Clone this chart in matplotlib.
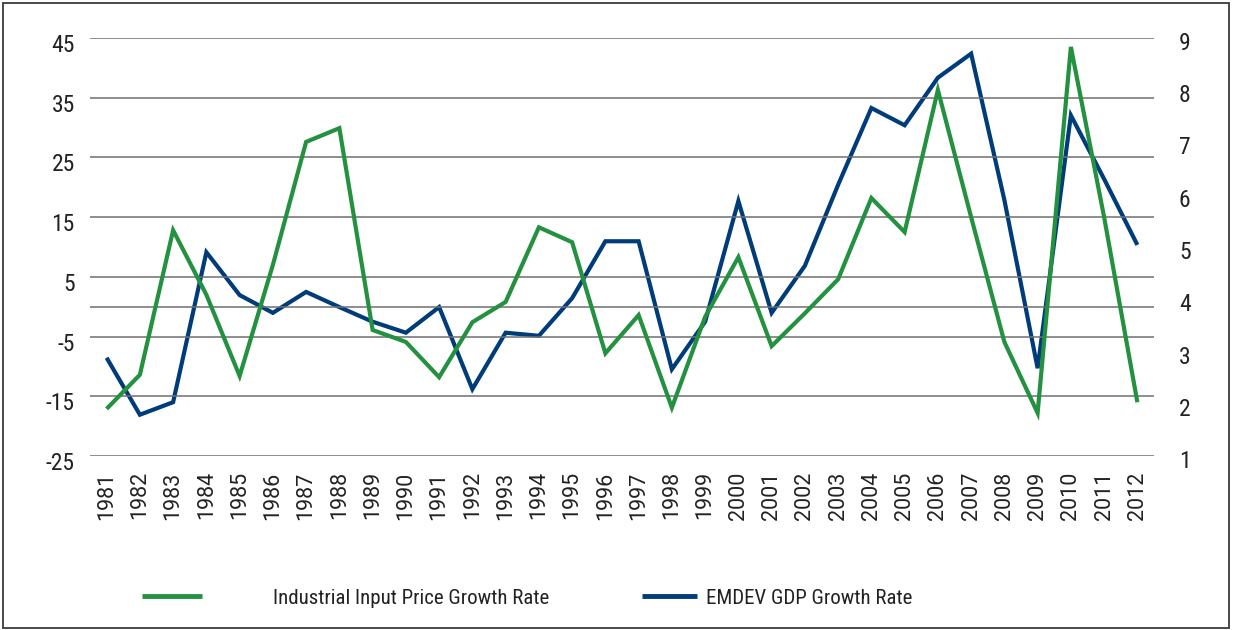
import matplotlib
matplotlib.use("Agg")
import matplotlib.pyplot as plt
from matplotlib.patches import Rectangle
import matplotlib.transforms as mtransforms

years = [str(y) for y in range(1981, 2013)]
industrial_price = [-17.1, -11.4, 12.8, 2.0, -11.6, 7.0, 27.6, 29.9, -3.9, -5.9,
                    -11.8, -2.6, 0.8, 13.3, 10.8, -7.8, -1.4, -16.9, -1.7, 8.3,
                    -6.6, -1.1, 4.6, 18.2, 12.5, 36.3, 15.0, -5.9, -17.8, 43.5,
                    15.0, -16.0]
emdev_gdp = [2.88, 1.79, 2.03, 4.90, 4.08, 3.74, 4.14, 3.85, 3.57, 3.36,
             3.85, 2.28, 3.36, 3.30, 4.02, 5.11, 5.11, 2.66, 3.57, 5.88,
             3.74, 4.64, 6.19, 7.66, 7.33, 8.24, 8.70, 5.9, 2.68, 7.52,
             6.3, 5.04]
left_ticks = [-25, -15, -5, 5, 15, 25, 35, 45]
right_ticks = [1, 2, 3, 4, 5, 6, 7, 8, 9]
labels = ["Industrial Input Price Growth Rate", "EMDEV GDP Growth Rate"]

GREEN = "#23913F"
BLUE = "#003C7A"
TXT = "#222222"

plt.rcParams["font.family"] = ["Roboto Condensed", "Liberation Sans", "DejaVu Sans"]

fig = plt.figure(figsize=(12.33, 6.30), dpi=100)
W, H = 1233, 630
ax = fig.add_axes([90 / W, 1 - 456 / H, (1154 - 90) / W, (456 - 38) / H])
ax2 = ax.twinx()

x = list(range(len(years)))
ax.set_xlim(-0.5, len(years) - 0.5)
ax.set_ylim(-25, 45)
ax.set_yticks(left_ticks)
ax.set_yticklabels([str(t) for t in left_ticks])
ax.yaxis.grid(True, color="#6f6f6f", linewidth=1.1)
ax.axhline(0, color="#6f6f6f", linewidth=1.1, zorder=0.5)
ax.set_axisbelow(True)
ax.set_xticks(x)
ax.set_xticklabels(years, rotation=90, fontsize=15.5,
                   family=["Roboto", "DejaVu Sans"])
ax.tick_params(axis="x", length=0, pad=11, colors=TXT)
ax.tick_params(axis="y", length=0, pad=11, labelsize=17, colors=TXT)

ax2.set_ylim(1, 9)
ax2.set_yticks(right_ticks)
ax2.set_yticklabels([str(t) for t in right_ticks])
ax2.tick_params(axis="y", length=0, pad=18, labelsize=17, colors=TXT)

for a in (ax, ax2):
    for s in a.spines.values():
        s.set_visible(False)

off_l = mtransforms.ScaledTranslation(0, -5 / 100, fig.dpi_scale_trans)
for lab in ax.get_yticklabels():
    lab.set_transform(lab.get_transform() + off_l)
off_r = mtransforms.ScaledTranslation(0, -3 / 100, fig.dpi_scale_trans)
for lab in ax2.get_yticklabels():
    lab.set_transform(lab.get_transform() + off_r)

l1, = ax.plot(x, industrial_price, color=GREEN, linewidth=3.0,
              solid_joinstyle="miter", solid_capstyle="butt", zorder=3)
l2, = ax2.plot(x, emdev_gdp, color=BLUE, linewidth=3.0,
               solid_joinstyle="miter", solid_capstyle="butt", zorder=2)
ax.set_zorder(ax2.get_zorder() + 1)
ax.patch.set_visible(False)

fs = 15
em = fs * 100 / 72
leg1 = fig.legend([l1], [labels[0]], loc="center left",
                  bbox_to_anchor=(142 / W, 1 - 598 / H), frameon=False,
                  fontsize=fs, handlelength=60 / em, handletextpad=71 / em,
                  borderpad=0, borderaxespad=0)
leg2 = fig.legend([l2], [labels[1]], loc="center left",
                  bbox_to_anchor=(642 / W, 1 - 598 / H), frameon=False,
                  fontsize=fs, handlelength=55 / em, handletextpad=9 / em,
                  borderpad=0, borderaxespad=0)
for lg in (leg1, leg2):
    for t in lg.get_texts():
        t.set_color(TXT)
    for h in lg.legend_handles:
        h.set_linewidth(3.5)

fig.patches.append(Rectangle((3 / W, 2 / H), (1229 - 3) / W, (627 - 2) / H,
                             transform=fig.transFigure, fill=False,
                             edgecolor="#3a3a3a", linewidth=1.3))

fig.savefig("out.png", dpi=100)
